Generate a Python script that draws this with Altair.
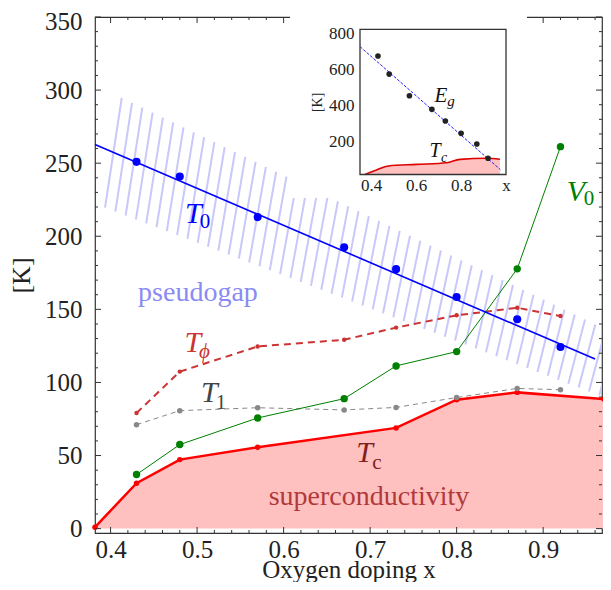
import altair as alt
import pandas as pd

# ---------------- data ----------------
doping = [0.43, 0.48, 0.57, 0.67, 0.73, 0.80, 0.87, 0.92]
t0_vals = [250.9, 240.9, 213.1, 192.5, 177.5, 158.4, 143.2, 124.3]
v0_vals = [37.0, 57.5, 75.7, 88.9, 111.3, 121.1, 177.7, 261.3]
tphi_vals = [79.1, 107.4, 124.6, 129.2, 137.5, 145.9, 151.1, 145.4]
t1_vals = [71.1, 80.7, 82.7, 81.2, 82.9, 89.7, 95.9, 95.0]
tc_x = [0.382, 0.43, 0.48, 0.57, 0.73, 0.80, 0.87, 0.97]
tc_vals = [1.0, 31.1, 47.2, 55.6, 68.9, 88.2, 93.2, 88.6]
t0_fit_x = [0.382, 0.960]
t0_fit_y = [262.8, 116.0]

# pseudogap band around the T0 line
band_first, band_last, band_step, band_slant = 0.3936, 0.99, 0.0119, 0.0193
band_half_x = [0.39, 0.97]
band_half_w = [40.4, 23.5]

# inset: gap energy Eg and Tc
eg_vals = [674, 574, 454, 379, 314, 246, 187, 108]
eg_fit_x = [0.35, 0.975]
eg_fit_y = [726, 45]
inset_tc_x = [0.372, 0.424, 0.476, 0.602, 0.736, 0.795, 0.914, 0.973]
inset_tc_y = [18, 43, 65, 74, 83, 102, 108, 102]

x_ticks = [0.4, 0.5, 0.6, 0.7, 0.8, 0.9]
y_ticks = [0, 50, 100, 150, 200, 250, 300, 350]
x_minor = [round(0.40 + 0.02 * i, 2) for i in range(29)]
y_minor = list(range(0, 351, 10))
inset_x_ticks = [0.4, 0.6, 0.8, 1.0]
inset_y_ticks = [200, 400, 600, 800]

# ---------------- layout ----------------
W, H = 507, 516
PAD = {"left": 87, "top": 9, "right": 1, "bottom": 49}
FONT = "Liberation Serif"
X_DOMAIN = [0.382, 0.968]
Y_DOMAIN = [-3, 350]
INSET_X = [265, 411]
INSET_Y = [157.5, 12.3]
INSET_BOX = dict(x=195, x2=432, y=-5, y2=181)

xs = alt.Scale(domain=X_DOMAIN, nice=False, zero=False)
ys = alt.Scale(domain=Y_DOMAIN, nice=False, zero=False)
ixs = alt.Scale(domain=[0.35, 1.0], range=INSET_X, nice=False, zero=False)
iys = alt.Scale(domain=[18, 822], range=INSET_Y, nice=False, zero=False)

FRAME = "#333333"
TXT = "#222222"


def t0_line(x):
    (x0, x1), (y0, y1) = t0_fit_x, t0_fit_y
    return y0 + (y1 - y0) * (x - x0) / (x1 - x0)


def band_half(x):
    (x0, x1), (w0, w1) = band_half_x, band_half_w
    return w0 + (w1 - w0) * (x - x0) / (x1 - x0)


rows = []
xb = band_first
while xb < band_last:
    xt = xb + band_slant
    rows.append({"xb": xb, "yb": t0_line(xb) - band_half(xb),
                 "xt": xt, "yt": t0_line(xt) + band_half(xt)})
    xb += band_step
stripes_df = pd.DataFrame(rows)

main_df = pd.DataFrame({"x": doping, "t0": t0_vals, "v0": v0_vals,
                        "tphi": tphi_vals, "t1": t1_vals, "eg": eg_vals})
tc_df = pd.DataFrame({"x": tc_x, "tc": tc_vals})
fit_df = pd.DataFrame({"x": t0_fit_x, "y": t0_fit_y})
egfit_df = pd.DataFrame({"x": eg_fit_x, "y": eg_fit_y})
itc_df = pd.DataFrame({"x": inset_tc_x, "y": inset_tc_y})

x_axis = alt.Axis(values=x_ticks, format=".1f", title="Oxygen doping x",
                  labelFont=FONT, labelFontSize=25, labelColor=TXT,
                  titleFont=FONT, titleFontSize=25, titleFontWeight="normal",
                  titleColor=TXT, ticks=False, tickSize=0, domain=False,
                  grid=False, labelFlush=False, labelPadding=4,
                  titleY=44, titleBaseline="alphabetic")
y_axis = alt.Axis(values=y_ticks, title="[K]",
                  labelFont=FONT, labelFontSize=25, labelColor=TXT,
                  labelOffset={"condition": {"test": "datum.value == 350", "value": 4}, "value": 0},
                  titleFont=FONT, titleFontSize=26, titleFontWeight="normal",
                  titleColor=TXT, ticks=False, tickSize=0, domain=False,
                  grid=False, labelFlush=False, labelPadding=13, titlePadding=10)

stripes = alt.Chart(stripes_df).mark_rule(color="#c8c8fa", strokeWidth=2, clip=True).encode(
    x=alt.X("xb:Q", scale=xs, axis=x_axis),
    y=alt.Y("yb:Q", scale=ys, axis=y_axis),
    x2="xt:Q", y2="yt:Q")

tc_area = alt.Chart(tc_df).mark_area(color="#ffc0c0", opacity=1).encode(
    x=alt.X("x:Q", scale=xs), y=alt.Y("tc:Q", scale=ys), y2=alt.datum(0))
tc_line = alt.Chart(tc_df).mark_line(color="#ff0000", strokeWidth=2.5).encode(
    x=alt.X("x:Q", scale=xs), y=alt.Y("tc:Q", scale=ys))
tc_pts = alt.Chart(tc_df).mark_circle(color="#ff0000", size=30, opacity=1).encode(
    x=alt.X("x:Q", scale=xs), y=alt.Y("tc:Q", scale=ys))


def series(field, color, width, dash, size):
    kw = dict(color=color, strokeWidth=width)
    if dash:
        kw["strokeDash"] = dash
    ln = alt.Chart(main_df).mark_line(**kw).encode(
        x=alt.X("x:Q", scale=xs), y=alt.Y(f"{field}:Q", scale=ys))
    pt = alt.Chart(main_df).mark_circle(color=color, size=size, opacity=1).encode(
        x=alt.X("x:Q", scale=xs), y=alt.Y(f"{field}:Q", scale=ys))
    return [ln, pt]


t1_layers = series("t1", "#888888", 1, [5, 4], 30)
tphi_layers = series("tphi", "#cc3333", 2, [7, 5], 20)
v0_layers = series("v0", "#008000", 1, None, 55)

t0_fit = alt.Chart(fit_df).mark_line(color="#0000ff", strokeWidth=1.6).encode(
    x=alt.X("x:Q", scale=xs), y=alt.Y("y:Q", scale=ys))
t0_pts = alt.Chart(main_df).mark_circle(color="#0000ff", size=65, opacity=1).encode(
    x=alt.X("x:Q", scale=xs), y=alt.Y("t0:Q", scale=ys))

# ---------------- text labels ----------------
labels = pd.DataFrame([
    # text, x, y, color, size, style
    ("T", 0.4958, 209.1, "#0000ff", 30, "italic"),
    ("0", 0.5091, 205.7, "#0000ff", 21, "normal"),
    ("pseudogap", 0.5010, 155.8, "#8a8af5", 28, "normal"),
    ("T", 0.4952, 120.6, "#cc3333", 30, "italic"),
    ("ϕ", 0.5085, 116.9, "#cc3333", 21, "italic"),
    ("T", 0.5143, 86.5, "#444444", 30, "italic"),
    ("1", 0.5276, 82.0, "#444444", 21, "normal"),
    ("V", 0.9379, 223.9, "#008000", 30, "italic"),
    ("0", 0.9530, 221.7, "#008000", 21, "normal"),
    ("T", 0.6935, 45.6, "#802020", 30, "italic"),
    ("c", 0.7079, 41.1, "#802020", 21, "normal"),
    ("superconductivity", 0.6987, 16.1, "#b03a3a", 28, "normal"),
], columns=["text", "x", "y", "color", "size", "style"])


def text_layers(df, xsc, ysc):
    out = []
    for (size, style), g in df.groupby(["size", "style"]):
        out.append(alt.Chart(g).mark_text(font=FONT, fontSize=int(size), fontStyle=style,
                                          align="center", baseline="alphabetic").encode(
            x=alt.X("x:Q", scale=xsc), y=alt.Y("y:Q", scale=ysc),
            text="text:N", color=alt.Color("color:N", scale=None)))
    return out


# ---------------- frame ticks (inward) ----------------
def tick_df(values, major_set):
    return pd.DataFrame({"v": values, "major": [v in major_set for v in values]})


ytk = tick_df(y_minor, set(y_ticks))
xtk = tick_df(x_minor, set(x_ticks))
ticks = []
for major, ln in [(True, 6), (False, 3)]:
    yd = ytk[ytk.major == major]
    xd = xtk[xtk.major == major]
    ticks.append(alt.Chart(yd).mark_rule(color=FRAME, strokeWidth=1).encode(
        y=alt.Y("v:Q", scale=ys), x=alt.value(0), x2=alt.value(ln)))
    ticks.append(alt.Chart(yd).mark_rule(color=FRAME, strokeWidth=1).encode(
        y=alt.Y("v:Q", scale=ys), x=alt.value(W), x2=alt.value(W - ln)))
    ticks.append(alt.Chart(xd).mark_rule(color=FRAME, strokeWidth=1).encode(
        x=alt.X("v:Q", scale=xs), y=alt.value(H), y2=alt.value(H - ln)))
    ticks.append(alt.Chart(xd).mark_rule(color=FRAME, strokeWidth=1).encode(
        x=alt.X("v:Q", scale=xs), y=alt.value(0), y2=alt.value(ln)))

main = alt.layer(stripes, tc_area, tc_line, tc_pts, *t1_layers, *tphi_layers,
                 *v0_layers, t0_fit, t0_pts, *text_layers(labels, xs, ys), *ticks)

# ---------------- inset ----------------
one = pd.DataFrame({"a": [0]})
inset_bg = alt.Chart(one).mark_rect(color="white", opacity=1).encode(
    x=alt.value(INSET_BOX["x"]), x2=alt.value(INSET_BOX["x2"]),
    y=alt.value(INSET_BOX["y"]), y2=alt.value(INSET_BOX["y2"]))

ix_axis = alt.Axis(orient="bottom", offset=-(H - INSET_Y[0]), values=inset_x_ticks,
                   labelExpr="datum.value == 1 ? 'x' : format(datum.value, '.1f')",
                   labelFont=FONT, labelFontSize=17, labelColor=TXT, labelPadding=3,
                   ticks=False, tickSize=0, domain=False, grid=False, labelFlush=False,
                   title=None, zindex=2)
iy_axis = alt.Axis(orient="left", offset=-INSET_X[0], values=inset_y_ticks,
                   labelFont=FONT, labelFontSize=17, labelColor=TXT, labelPadding=6,
                   ticks=False, tickSize=0, domain=False, grid=False, labelFlush=False,
                   title="[K]", titleFont=FONT, titleFontSize=14, titleFontWeight="normal",
                   titleColor=TXT, titlePadding=4, zindex=2)

itc_area = alt.Chart(itc_df).mark_area(color="#ffc0c0", opacity=1, interpolate="monotone").encode(
    x=alt.X("x:Q", scale=ixs, axis=ix_axis), y=alt.Y("y:Q", scale=iys, axis=iy_axis),
    y2=alt.datum(18))
itc_line = alt.Chart(itc_df).mark_line(color="#dd0000", strokeWidth=1.6, interpolate="monotone").encode(
    x=alt.X("x:Q", scale=ixs), y=alt.Y("y:Q", scale=iys))
eg_fit = alt.Chart(egfit_df).mark_line(color="#2020ff", strokeWidth=1, strokeDash=[3, 1.5]).encode(
    x=alt.X("x:Q", scale=ixs), y=alt.Y("y:Q", scale=iys))
eg_pts = alt.Chart(main_df).mark_circle(color="#222222", size=32, opacity=1).encode(
    x=alt.X("x:Q", scale=ixs), y=alt.Y("eg:Q", scale=iys))

inset_labels = pd.DataFrame([
    ("E", 0.7106, 421, "#111111", 21, "italic"),
    ("g", 0.7552, 397, "#111111", 15, "italic"),
    ("T", 0.6839, 116.6, "#111111", 20, "italic"),
    ("c", 0.7240, 88.9, "#111111", 14, "italic"),
], columns=["text", "x", "y", "color", "size", "style"])

inset_frame = alt.Chart(one).mark_rect(filled=False, stroke=FRAME, strokeWidth=1.3).encode(
    x=alt.datum(0.35, scale=ixs), x2=alt.datum(1.0),
    y=alt.datum(18, scale=iys), y2=alt.datum(822))

inset = alt.layer(inset_bg, itc_area, itc_line, eg_fit, eg_pts,
                  *text_layers(inset_labels, ixs, iys), inset_frame)

chart = alt.layer(main, inset).resolve_scale(
    x="independent", y="independent"
).properties(
    width=W, height=H, padding=PAD,
    autosize=alt.AutoSizeParams(type="none"),
).configure_view(stroke=FRAME, strokeWidth=1.2).configure_axis(grid=False)

chart.save("out.html", embed_options={"renderer": "svg", "actions": False})
